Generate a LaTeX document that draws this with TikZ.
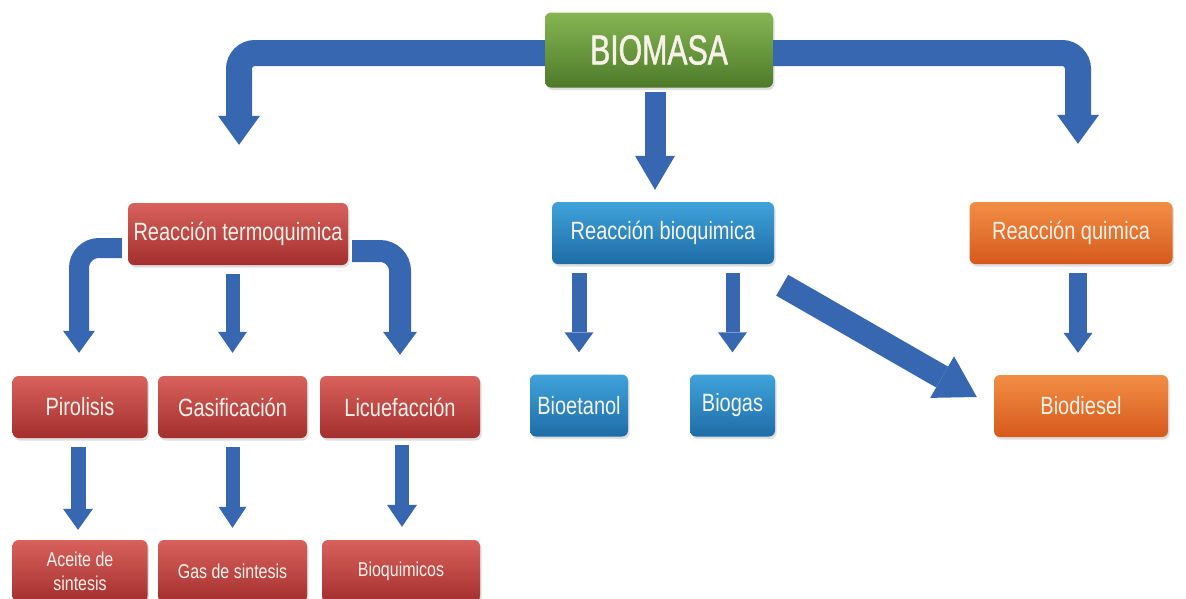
\documentclass[tikz,border=0pt]{standalone}
\usepackage{fontspec}
\newfontfamily\nar[FakeStretch=0.8]{Liberation Sans}
\newfontfamily\narb[FakeStretch=0.72,FakeBold=1.2]{Liberation Sans}
\usetikzlibrary{arrows.meta,shadows,calc}
\definecolor{arrblue}{HTML}{3767B0}
\definecolor{gtop}{HTML}{86B552}
\definecolor{gbot}{HTML}{4E7A2A}
\definecolor{rtop}{HTML}{D8615C}
\definecolor{rbot}{HTML}{A32F2E}
\definecolor{btop}{HTML}{3FA3DA}
\definecolor{bbot}{HTML}{1E6CA6}
\definecolor{otop}{HTML}{F28E45}
\definecolor{obot}{HTML}{D65A1B}
\definecolor{txt}{HTML}{F6F2EA}
\tikzset{
  box/.style={rounded corners=6pt, minimum height=62pt, inner sep=0pt, text=txt,
    align=center, font=\nar\fontsize{25}{28}\selectfont,
    drop shadow={shadow xshift=1.5pt, shadow yshift=-2.5pt, opacity=0.25}},
  gbox/.style={box, top color=gtop, bottom color=gbot},
  rbox/.style={box, top color=rtop, bottom color=rbot},
  bbox/.style={box, top color=btop, bottom color=bbot},
  obox/.style={box, top color=otop, bottom color=obot},
  small/.style={font=\nar\fontsize{20}{24}\selectfont},
  blk/.style n args={3}{draw=arrblue, line width=#1,
    -{Triangle[width=#2 0 0, length=#3 0 0, line width=0pt 0 0]}}
}
\begin{document}
\begin{tikzpicture}[x=1pt,y=-1pt]
\clip (0,0) rectangle (1186,598);
\fill[white] (0,0) rectangle (1186,598);

% nodes
\node[gbox, minimum width=228pt, minimum height=75pt, font=\narb\fontsize{42}{46}\selectfont] (biomasa) at (659,50) {BIOMASA};
\node[rbox, minimum width=220pt] (termo) at (238,234) {Reacción termoquimica};
\node[bbox, minimum width=222pt] (bioq) at (663,233) {Reacción bioquimica};
\node[obox, minimum width=203pt] (quim) at (1071,233) {Reacción quimica};

\node[rbox, minimum width=135pt] (piro) at (80,407) {Pirolisis};
\node[rbox, minimum width=149pt] (gas) at (232.5,407) {Gasificación};
\node[rbox, minimum width=160pt] (licu) at (400,407) {Licuefacción};
\node[bbox, minimum width=98pt] (bioet) at (579,405.5) {Bioetanol};
\node[bbox, minimum width=85pt] (biogas) at (732.5,405.5) {Biogas};
\node[obox, minimum width=174pt] (biodiesel) at (1081,406) {Biodiesel};

\node[rbox, small, minimum width=135pt] (aceite) at (80,571) {Aceite de\\sintesis};
\node[rbox, small, minimum width=149pt] (gassin) at (232.5,571) {Gas de sintesis};
\node[rbox, small, minimum width=158pt] (bioqm) at (401,571) {Bioquimicos};

% arrows from BIOMASA
\draw[blk={26pt}{42pt}{29pt}, rounded corners=16pt]
  ([yshift=-3pt]biomasa.west) -| ([xshift=1pt,yshift=58pt]termo.north);
\draw[blk={26pt}{42pt}{29pt}, rounded corners=16pt]
  ([yshift=-3pt]biomasa.east) -| ([xshift=7pt,yshift=58pt]quim.north);
\draw[blk={21pt}{40pt}{34pt}, shorten <=4pt]
  ([xshift=-4pt]biomasa.south) -- ([xshift=-8pt,yshift=12pt]bioq.north);

% termoquimica
\draw[blk={20pt}{32pt}{22pt}, rounded corners=20pt]
  ([xshift=-6pt,yshift=-14pt]termo.west) -| ([xshift=-1pt,yshift=23pt]piro.north);
\draw[blk={14pt}{29pt}{21pt}, shorten <=9pt]
  (termo.south -| gas.north) -- ([yshift=23pt]gas.north);
\draw[blk={22pt}{34pt}{23pt}, rounded corners=20pt]
  ([xshift=4pt,yshift=-17pt]termo.east) -| ([yshift=21pt]licu.north);

% second row
\draw[blk={15pt}{30pt}{21pt}, shorten <=9pt]
  ([xshift=-2pt]piro.south) -- ([xshift=-2pt,yshift=10pt]aceite.north);
\draw[blk={14pt}{28pt}{21pt}, shorten <=9pt]
  (gas.south) -- ([yshift=12pt]gassin.north);
\draw[blk={14pt}{30pt}{22pt}, shorten <=7pt]
  ([xshift=2pt]licu.south) -- ([xshift=1pt,yshift=13pt]bioqm.north);

% bioquimica
\draw[blk={15pt}{29pt}{20pt}, shorten <=9pt]
  (bioq.south -| bioet.north) -- ([yshift=22pt]bioet.north);
\draw[blk={14pt}{29pt}{20pt}, shorten <=9pt]
  (bioq.south -| biogas.north) -- ([yshift=22pt]biogas.north);
\draw[blk={24pt}{48pt}{40pt}]
  ([xshift=8pt,yshift=-21pt]bioq.south east) -- ([xshift=-17pt,yshift=9pt]biodiesel.west);

% quimica
\draw[blk={18pt}{29pt}{20pt}, shorten <=9pt]
  ([xshift=7pt]quim.south) -- ([xshift=-3pt,yshift=22pt]biodiesel.north);
\end{tikzpicture}
\end{document}
